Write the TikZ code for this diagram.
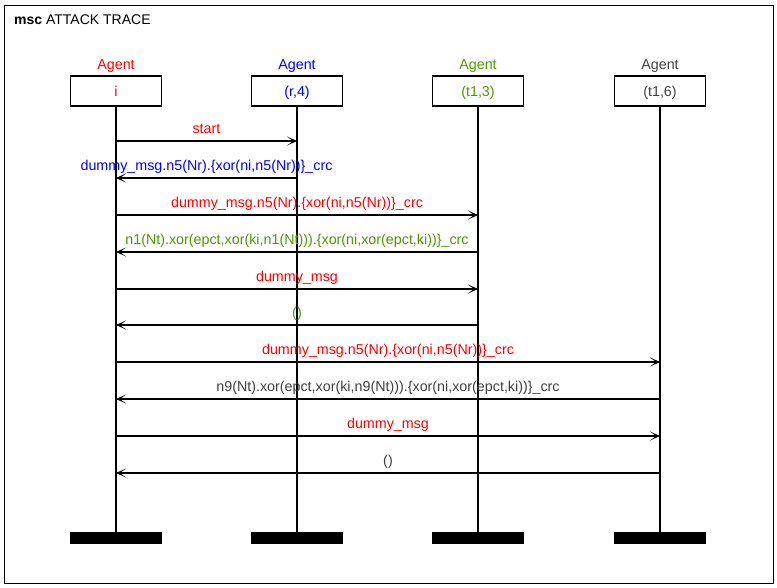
\documentclass[tikz,border=0pt]{standalone}
\usepackage{fontspec}
\setmainfont{Liberation Sans}
\usetikzlibrary{arrows.meta}
\definecolor{agred}{RGB}{255,0,0}
\definecolor{agblue}{RGB}{0,0,255}
\definecolor{aggreen}{RGB}{77,153,0}
\definecolor{aggray}{RGB}{64,64,64}
\begin{document}
\begin{tikzpicture}[x=1pt,y=-1pt,
  lbl/.style={font=\fontsize{14.3}{16}\selectfont, inner sep=0pt, anchor=base},
  agentbox/.style={draw, line width=1.5pt, minimum width=91pt, minimum height=30pt,
    inner sep=0pt, text height=12pt, text depth=2pt, font=\fontsize{14.3}{16}\selectfont},
  endbar/.style={fill=black, draw=none, minimum width=92pt, minimum height=12pt, inner sep=0pt},
  lifeline/.style={line width=1.6pt},
  msg/.style={line width=1.5pt, -{Stealth[length=10pt,width=9pt,inset=6pt]}},
  mlabel/.style={lbl, midway, yshift=7.5pt}]
\useasboundingbox (0,0) rectangle (777,587);
\draw[line width=1pt] (4,5) rectangle (773,583);
\node[anchor=base west, inner sep=0pt, font=\fontsize{14}{16}\selectfont] (title) at (14,24) {\textbf{msc} ATTACK TRACE};

% agents
\node[agentbox, text=agred] (A) at (116,91) {i};
\node[agentbox, text=agblue] (B) at (297,91) {(r,4)};
\node[agentbox, text=aggreen] (C) at (478,91) {(t1,3)};
\node[agentbox, text=aggray] (D) at (660,91) {(t1,6)};
\node[lbl, text=agred] (An) at (116,69) {Agent};
\node[lbl, text=agblue] (Bn) at (297,69) {Agent};
\node[lbl, text=aggreen] (Cn) at (478,69) {Agent};
\node[lbl, text=aggray] (Dn) at (660,69) {Agent};

% end bars
\node[endbar] (Ae) at (116,538) {};
\node[endbar] (Be) at (297,538) {};
\node[endbar] (Ce) at (478,538) {};
\node[endbar] (De) at (660,538) {};

\draw[lifeline] (A.south) -- (Ae.north);
\draw[lifeline] (B.south) -- (Be.north);
\draw[lifeline] (C.south) -- (Ce.north);
\draw[lifeline] (D.south) -- (De.north);

% message rows
\foreach \i/\yy in {1/141,2/178,3/215,4/252,5/289,6/325,7/362,8/399,9/436,10/473}{
  \coordinate (y\i) at (0,\yy);
}

\draw[msg] (A |- y1) -- (B |- y1) node[mlabel, text=agred] {start};
\draw[msg] (B |- y2) -- (A |- y2) node[mlabel, text=agblue] {dummy\_msg.n5(Nr).\{xor(ni,n5(Nr))\}\_crc};
\draw[msg] (A |- y3) -- (C |- y3) node[mlabel, text=agred] {dummy\_msg.n5(Nr).\{xor(ni,n5(Nr))\}\_crc};
\draw[msg] (C |- y4) -- (A |- y4) node[mlabel, text=aggreen] {n1(Nt).xor(epct,xor(ki,n1(Nt))).\{xor(ni,xor(epct,ki))\}\_crc};
\draw[msg] (A |- y5) -- (C |- y5) node[mlabel, text=agred] {dummy\_msg};
\draw[msg] (C |- y6) -- (A |- y6) node[mlabel, text=aggreen] {()};
\draw[msg] (A |- y7) -- (D |- y7) node[mlabel, text=agred] {dummy\_msg.n5(Nr).\{xor(ni,n5(Nr))\}\_crc};
\draw[msg] (D |- y8) -- (A |- y8) node[mlabel, text=aggray] {n9(Nt).xor(epct,xor(ki,n9(Nt))).\{xor(ni,xor(epct,ki))\}\_crc};
\draw[msg] (A |- y9) -- (D |- y9) node[mlabel, text=agred] {dummy\_msg};
\draw[msg] (D |- y10) -- (A |- y10) node[mlabel, text=aggray] {()};
\end{tikzpicture}
\end{document}
